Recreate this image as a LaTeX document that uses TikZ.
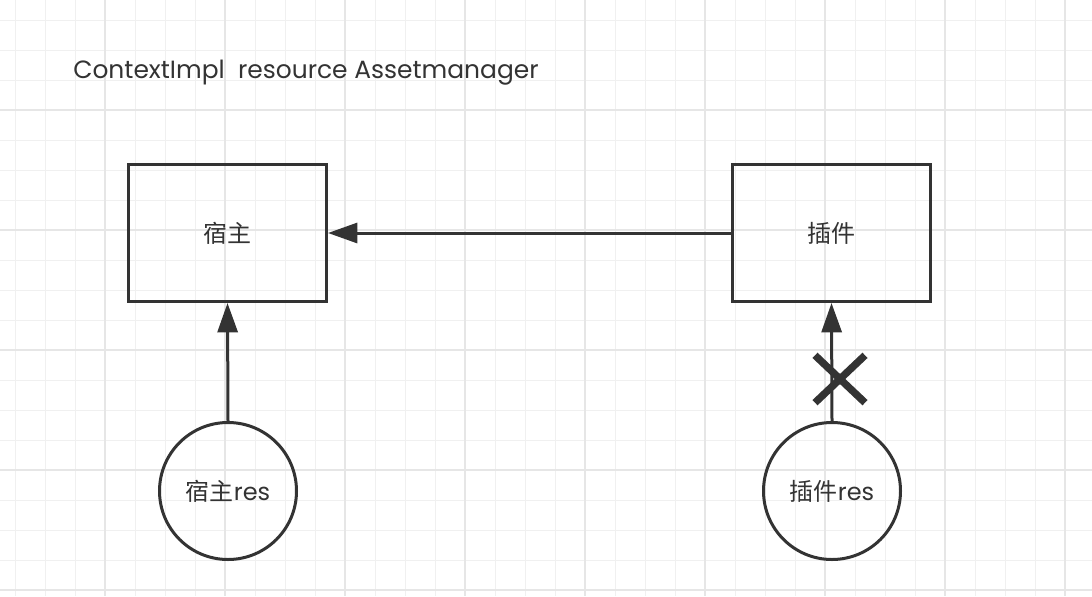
\documentclass[tikz,border=0pt]{standalone}
\usepackage{fontspec}
\setmainfont{Poppins}
\newfontfamily\cjk{Noto Sans CJK SC}
\usetikzlibrary{arrows.meta, shapes.misc, positioning}
\definecolor{ink}{HTML}{333333}
\definecolor{gridminor}{HTML}{F0F0F0}
\definecolor{gridmajor}{HTML}{E6E6E6}
\tikzset{
	block/.style={draw=ink, line width=2.25pt, minimum width=148.5pt, minimum height=102.75pt, text=ink, font=\cjk\fontsize{18}{20}\selectfont},
	res/.style={circle, draw=ink, line width=2.25pt, minimum size=102.75pt, inner sep=0pt, text=ink, font=\fontsize{18}{20}\selectfont},
	flow/.style={->, draw=ink, line width=2.25pt},
	blocked/.style={cross out, draw=ink, line width=5.5pt, minimum width=32pt, minimum height=30pt, inner sep=0pt},
	>={Triangle[length=22pt, width=15pt]}
}

\begin{document}
\begin{tikzpicture}[x=0.75pt, y=-0.75pt]
		\useasboundingbox (0,0) rectangle (1092,596);
		\fill[white] (0,0) rectangle (1092,596);
		
		% background grid
		\foreach \gx in {15,45,...,1095} \draw[gridminor, line width=0.75pt] (\gx,0) -- (\gx,596);
		\foreach \gy in {20,50,...,596} \draw[gridminor, line width=0.75pt] (0,\gy) -- (1092,\gy);
		\foreach \gx in {105,225,...,1095} \draw[gridmajor, line width=1pt] (\gx,0) -- (\gx,596);
		\foreach \gy in {110,230,...,596} \draw[gridmajor, line width=1pt] (0,\gy) -- (1092,\gy);
		
		\node[anchor=base west, text=ink, inner sep=0pt, font=\fontsize{18.7}{22}\selectfont] (title) at (73,78) {ContextImpl\ \ resource Assetmanager};
		
		\node[block] (host) at (227.5,233) {宿主};
		\node[block] (plugin) at (831.5,233) {插件};
		
		\node[res] (hostres) at (228,491) {{\cjk 宿主}res};
		\node[res] (pluginres) at (832,491) {{\cjk 插件}res};
		
		\draw[flow] (plugin.west)    -- (host.east);
		\draw[flow] (hostres.north)  -- (host.south);
		\draw[flow] (pluginres.north) -- (plugin.south);
		
		\node[blocked] (cut) at (840,379) {};
	\end{tikzpicture}
\end{document}
